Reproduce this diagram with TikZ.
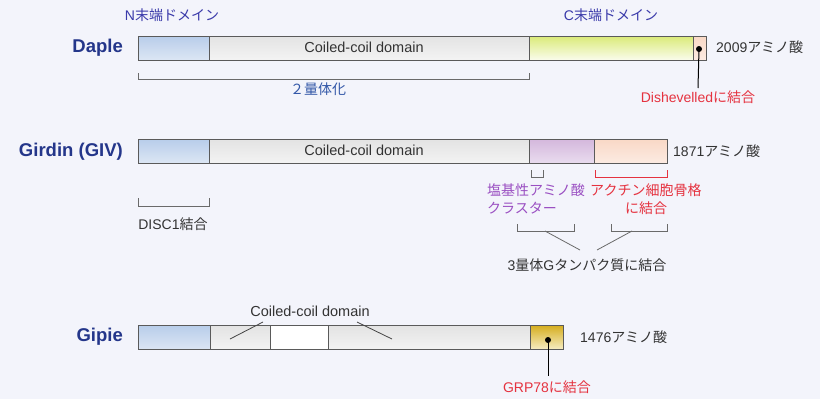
\documentclass[tikz,border=0pt]{standalone}
\usepackage{fontspec}
\setmainfont{Liberation Sans}
\newfontfamily\jp{Noto Sans CJK JP}
\definecolor{bg}{HTML}{F3F4FB}
\definecolor{edge}{HTML}{5A5A5A}
\definecolor{navy}{HTML}{24368A}
\definecolor{violetblue}{HTML}{3A3AAA}
\definecolor{dimerblue}{HTML}{3358A8}
\definecolor{redtxt}{HTML}{E5323F}
\definecolor{purptxt}{HTML}{9A4FC2}
\definecolor{graytxt}{HTML}{333333}
\definecolor{brk}{HTML}{6A6A6A}
\definecolor{ccline}{HTML}{444444}
\definecolor{blueT}{HTML}{B8CDEA}\definecolor{blueB}{HTML}{DCE6F4}
\definecolor{grayT}{HTML}{E3E3E3}\definecolor{grayB}{HTML}{F3F3F3}
\definecolor{ygT}{HTML}{DAEA78}\definecolor{ygB}{HTML}{FAFCEC}
\definecolor{pkT}{HTML}{F9D8C6}\definecolor{pkB}{HTML}{FCEBE2}
\definecolor{puT}{HTML}{D4B7DC}\definecolor{puB}{HTML}{E9DCEF}
\definecolor{gdT}{HTML}{D6AE20}\definecolor{gdB}{HTML}{F6EDC4}
\tikzset{
  seg/.style={draw=edge, line width=0.9pt, minimum height=24pt, inner sep=0pt, anchor=west, outer sep=0pt},
  pname/.style={font=\fontsize{18.5}{20}\selectfont\bfseries, text=navy, anchor=east, inner sep=0pt},
  lab/.style={font=\fontsize{14}{16}\selectfont, inner sep=0pt},
  cc/.style={font=\fontsize{14.5}{16}\selectfont, text=graytxt, inner sep=0pt},
  brline/.style={draw=brk, line width=0.8pt},
  dotline/.style={draw=black, line width=1pt},
  sb/.style={seg, top color=blueT, bottom color=blueB},
  sg/.style={seg, top color=grayT, bottom color=grayB},
  sy/.style={seg, top color=ygT, bottom color=ygB},
  sk/.style={seg, top color=pkT, bottom color=pkB},
  su/.style={seg, top color=puT, bottom color=puB},
  sd/.style={seg, top color=gdT, bottom color=gdB},
  sw/.style={seg, fill=white},
}
\begin{document}
\begin{tikzpicture}[x=1pt,y=-1pt]
\useasboundingbox[fill=bg] (0,0) rectangle (820,399);
% ---- Daple
\node[lab, text=violetblue] (nterm) at (172,15) {N{\jp 末端ドメイン}};
\node[lab, text=violetblue] (cterm) at (611,15) {C{\jp 末端ドメイン}};
\node[pname] (daple) at (123,48) {Daple};
\node[sb, minimum width=71pt] (d1) at (138,48) {};
\node[sg, minimum width=320pt] (d2) at (209,48) {};
\node[sy, minimum width=164pt] (d3) at (529,48) {};
\node[sk, minimum width=13pt] (d4) at (693,48) {};
\node[cc] (dcc) at (364,47) {Coiled-coil domain};
\node[lab, text=graytxt, anchor=west] (daa) at (716,47) {2009{\jp アミノ酸}};
\coordinate (ddot) at (699,49);
\fill (ddot) circle (3pt);
\node[lab, text=redtxt] (dish) at (698,97) {Dishevelled{\jp に結合}};
\draw[dotline] (ddot) -- (698,88);
\draw[brline] (138,73) -- (138,79) -- (529,79) -- (529,73);
\node[lab, text=dimerblue] (dimer) at (318,89) {\jp ２量体化};
% ---- Girdin
\node[pname] (girdin) at (123,152) {Girdin (GIV)};
\node[sb, minimum width=71pt] (g1) at (138,151) {};
\node[sg, minimum width=320pt] (g2) at (209,151) {};
\node[su, minimum width=65pt] (g3) at (529,151) {};
\node[sk, minimum width=73pt] (g4) at (594,151) {};
\node[cc] (gcc) at (364,150) {Coiled-coil domain};
\node[lab, text=graytxt, anchor=west] (gaa) at (673,151) {1871{\jp アミノ酸}};
\draw[brline] (138,198) -- (138,206) -- (209,206) -- (209,198);
\node[lab, text=graytxt] (disc) at (173,224) {DISC1{\jp 結合}};
\draw[brline] (531,170) -- (531,177) -- (543,177) -- (543,170);
\draw[draw=redtxt, line width=0.8pt] (595,170) -- (595,177) -- (667,177) -- (667,170);
\node[lab, text=purptxt, anchor=west] (basic) at (487,190) {\jp 塩基性アミノ酸};
\node[lab, text=purptxt, anchor=west] (clus) at (487,208) {\jp クラスター};
\node[lab, text=redtxt, anchor=west] (actin) at (590,190) {\jp アクチン細胞骨格};
\node[lab, text=redtxt] (actin2) at (646,208) {\jp に結合};
\draw[brline] (517,224) -- (517,231) -- (574,231) -- (574,224);
\draw[brline] (611,224) -- (611,231) -- (667,231) -- (667,224);
\node[lab, text=graytxt] (gprot) at (587,265) {3{\jp 量体}G{\jp タンパク質に結合}};
\draw[brline] (545,231) -- (580,250);
\draw[brline] (632,231) -- (597,250);
% ---- Gipie
\node[pname] (gipie) at (123,337) {Gipie};
\node[sb, minimum width=72pt] (p1) at (138,337.5) {};
\node[sg, minimum width=60pt] (p2) at (210,337.5) {};
\node[sw, minimum width=58pt] (p3) at (270,337.5) {};
\node[sg, minimum width=202pt] (p4) at (328,337.5) {};
\node[sd, minimum width=33pt] (p5) at (530,337.5) {};
\node[cc] (pcc) at (310,311) {Coiled-coil domain};
\draw[brline, draw=ccline] (263,322) -- (230,339);
\draw[brline, draw=ccline] (357,322) -- (392,339);
\coordinate (pdot) at (548,340);
\fill (pdot) circle (3pt);
\draw[dotline] (pdot) -- (548,376);
\node[lab, text=redtxt] (grp) at (547,387) {GRP78{\jp に結合}};
\node[lab, text=graytxt, anchor=west] (paa) at (580,337) {1476{\jp アミノ酸}};
\end{tikzpicture}
\end{document}
